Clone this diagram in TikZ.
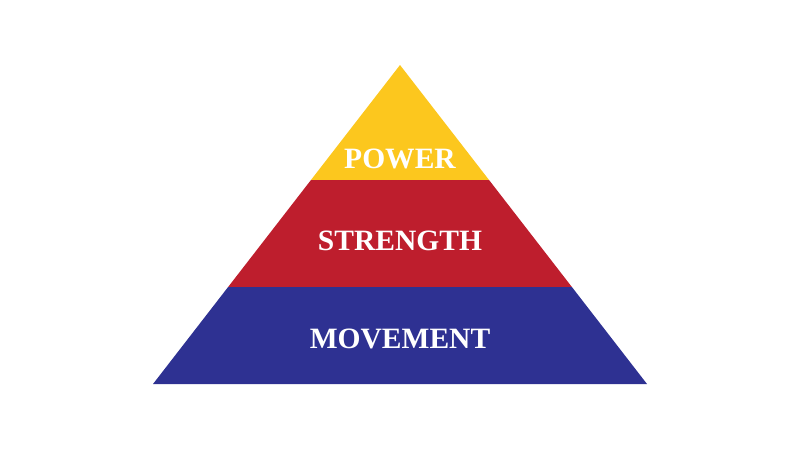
\documentclass[tikz,border=0pt]{standalone}
\usepackage{fontspec}
\setmainfont{Liberation Serif}
\usetikzlibrary{calc}
\definecolor{powercolor}{RGB}{252,199,30}
\definecolor{strengthcolor}{RGB}{190,30,45}
\definecolor{movementcolor}{RGB}{46,49,146}

\begin{document}
\begin{tikzpicture}[
    x=0.025cm, y=-0.025cm,
    band/.style={draw=none},
    level/.style={anchor=base, text=white, inner sep=0pt, font=\fontsize{21}{24}\selectfont\bfseries}
]
\useasboundingbox (0,0) rectangle (800,450);

% Corners of the pyramid
\coordinate (apex) at (400,65);
\coordinate (bl) at (153,384);
\coordinate (br) at (647,384);

% Band edges
\coordinate (l1) at ($(apex)!0.3605!(bl)$);
\coordinate (r1) at ($(apex)!0.3605!(br)$);
\coordinate (l2) at ($(apex)!0.696!(bl)$);
\coordinate (r2) at ($(apex)!0.696!(br)$);

% Bands
\fill[band, powercolor] (apex) -- (r1) -- (l1) -- cycle;
\fill[band, strengthcolor] (l1) -- (r1) -- (r2) -- (l2) -- cycle;
\fill[band, movementcolor] (l2) -- (r2) -- (br) -- (bl) -- cycle;

% Labels
\node[level] (power) at (400,168) {POWER};
\node[level] (strength) at (400,250) {STRENGTH};
\node[level] (movement) at (400,348) {MOVEMENT};

\end{tikzpicture}
\end{document}
